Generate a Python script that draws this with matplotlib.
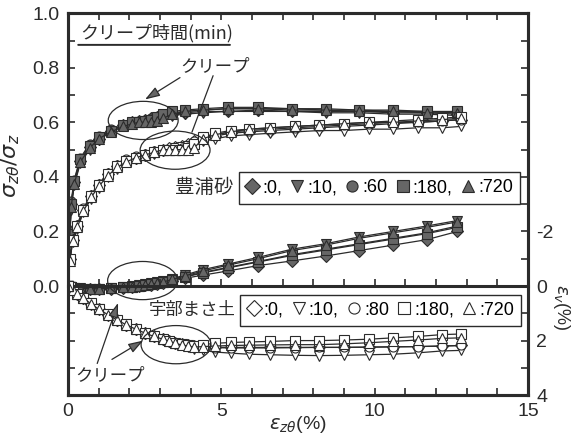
import matplotlib
matplotlib.use('Agg')
import matplotlib.pyplot as plt
from matplotlib.patches import Ellipse
from matplotlib.lines import Line2D
from matplotlib.ticker import MultipleLocator, FixedLocator, FormatStrFormatter

plt.rcParams['font.family'] = ['Liberation Sans', 'DejaVu Sans']
plt.rcParams['mathtext.fontset'] = 'dejavusans'
plt.rcParams['axes.unicode_minus'] = False

jp = ['Noto Sans CJK JP', 'DejaVu Sans']
ink = '#2b2b2b'
dark = '#666666'

# creep time legends (min)
markers = ['D', 'v', 'o', 's', '^']
toyo_labels = [':0,', ':10,', ':60', ':180,', ':720']
masa_labels = [':0,', ':10,', ':80', ':180,', ':720']

# Toyoura sand: shear strain (%), stress ratio, volumetric strain (%)
eps_toyo = [0, 0.05, 0.1, 0.2, 0.4, 0.7, 1.0, 1.4, 1.8, 2.1, 2.3, 2.5, 2.7, 2.9, 3.1,
            3.4, 3.8, 4.4, 5.2, 6.2, 7.3, 8.4, 9.5, 10.6, 11.7, 12.7]
toyo_ratio_0 = [0, 0.18, 0.30, 0.38, 0.46, 0.51, 0.54, 0.57, 0.59, 0.60, 0.605, 0.61, 0.615,
                0.62, 0.625, 0.63, 0.635, 0.64, 0.64, 0.645, 0.64, 0.64, 0.64, 0.635, 0.635, 0.63]
toyo_ratio_10 = [0, 0.16, 0.28, 0.37, 0.45, 0.50, 0.535, 0.565, 0.585, 0.595, 0.60, 0.605, 0.61,
                 0.615, 0.62, 0.625, 0.63, 0.635, 0.64, 0.64, 0.64, 0.635, 0.635, 0.63, 0.63, 0.625]
toyo_ratio_60 = [0, 0.20, 0.31, 0.39, 0.47, 0.52, 0.55, 0.575, 0.59, 0.60, 0.605, 0.61, 0.615,
                 0.62, 0.63, 0.635, 0.64, 0.645, 0.65, 0.65, 0.65, 0.645, 0.645, 0.64, 0.64, 0.635]
toyo_ratio_180 = [0, 0.19, 0.30, 0.385, 0.465, 0.515, 0.545, 0.57, 0.59, 0.60, 0.60, 0.605, 0.61,
                  0.62, 0.63, 0.64, 0.645, 0.65, 0.655, 0.655, 0.65, 0.65, 0.645, 0.645, 0.64, 0.64]
toyo_ratio_720 = [0, 0.17, 0.29, 0.375, 0.455, 0.505, 0.54, 0.565, 0.585, 0.595, 0.60, 0.60, 0.60,
                  0.605, 0.615, 0.63, 0.64, 0.645, 0.65, 0.65, 0.645, 0.645, 0.64, 0.64, 0.635, 0.635]
toyo_vol_0 = [0, 0.02, 0.05, 0.08, 0.10, 0.12, 0.12, 0.10, 0.06, 0.03, 0.0, -0.02, -0.05, -0.08,
              -0.12, -0.18, -0.28, -0.40, -0.55, -0.75, -0.92, -1.10, -1.30, -1.50, -1.70, -2.0]
toyo_vol_10 = [0, 0.02, 0.05, 0.07, 0.09, 0.10, 0.10, 0.08, 0.04, 0.0, -0.03, -0.06, -0.10, -0.14,
               -0.19, -0.27, -0.40, -0.60, -0.80, -1.05, -1.35, -1.55, -1.80, -2.00, -2.20, -2.40]
toyo_vol_60 = [0, 0.02, 0.05, 0.08, 0.10, 0.11, 0.11, 0.09, 0.05, 0.02, -0.01, -0.04, -0.08, -0.12,
               -0.16, -0.23, -0.34, -0.50, -0.68, -0.90, -1.15, -1.35, -1.55, -1.75, -1.95, -2.20]
toyo_vol_180 = [0, 0.02, 0.05, 0.08, 0.10, 0.11, 0.11, 0.09, 0.05, 0.02, 0.0, -0.03, -0.06, -0.10,
                -0.15, -0.22, -0.33, -0.48, -0.66, -0.88, -1.12, -1.32, -1.52, -1.72, -1.92, -2.15]
toyo_vol_720 = [0, 0.02, 0.05, 0.07, 0.09, 0.10, 0.10, 0.08, 0.05, 0.02, 0.0, -0.03, -0.06, -0.10,
                -0.15, -0.24, -0.37, -0.55, -0.76, -1.00, -1.30, -1.50, -1.75, -1.95, -2.15, -2.35]

# Ube masado soil
eps_masa = [0, 0.05, 0.15, 0.3, 0.5, 0.75, 1.0, 1.3, 1.6, 1.9, 2.2, 2.5, 2.8, 3.1, 3.3, 3.5,
            3.7, 3.9, 4.1, 4.4, 4.8, 5.3, 5.9, 6.6, 7.4, 8.2, 9.0, 9.8, 10.6, 11.4, 12.2, 12.8]
masa_ratio_0 = [0, 0.10, 0.17, 0.22, 0.28, 0.33, 0.37, 0.41, 0.44, 0.46, 0.47, 0.48, 0.49, 0.50,
                0.505, 0.51, 0.515, 0.52, 0.53, 0.54, 0.55, 0.56, 0.565, 0.57, 0.575, 0.58,
                0.585, 0.59, 0.595, 0.60, 0.605, 0.61]
masa_ratio_10 = [0, 0.09, 0.16, 0.21, 0.27, 0.32, 0.36, 0.40, 0.43, 0.455, 0.465, 0.475, 0.485,
                 0.495, 0.50, 0.505, 0.51, 0.515, 0.52, 0.53, 0.54, 0.55, 0.555, 0.56, 0.565,
                 0.57, 0.57, 0.575, 0.575, 0.58, 0.58, 0.585]
masa_ratio_80 = [0, 0.10, 0.17, 0.225, 0.285, 0.335, 0.375, 0.415, 0.445, 0.465, 0.475, 0.485,
                 0.495, 0.50, 0.50, 0.50, 0.505, 0.51, 0.53, 0.545, 0.555, 0.565, 0.57, 0.575,
                 0.58, 0.585, 0.59, 0.595, 0.60, 0.60, 0.605, 0.61]
masa_ratio_180 = [0, 0.10, 0.17, 0.22, 0.28, 0.33, 0.37, 0.41, 0.44, 0.46, 0.47, 0.48, 0.49, 0.50,
                  0.50, 0.50, 0.50, 0.505, 0.52, 0.545, 0.56, 0.57, 0.575, 0.58, 0.585, 0.59,
                  0.595, 0.60, 0.605, 0.61, 0.615, 0.62]
masa_ratio_720 = [0, 0.09, 0.165, 0.215, 0.275, 0.325, 0.365, 0.405, 0.435, 0.455, 0.47, 0.48,
                  0.49, 0.50, 0.50, 0.50, 0.50, 0.50, 0.505, 0.54, 0.555, 0.565, 0.575, 0.58,
                  0.585, 0.59, 0.595, 0.60, 0.60, 0.605, 0.61, 0.615]
masa_vol_0 = [0, 0.05, 0.15, 0.30, 0.45, 0.65, 0.85, 1.05, 1.25, 1.42, 1.58, 1.72, 1.85, 1.95,
              2.02, 2.08, 2.13, 2.17, 2.20, 2.22, 2.25, 2.25, 2.25, 2.25, 2.25, 2.25, 2.25,
              2.24, 2.23, 2.22, 2.20, 2.18]
masa_vol_10 = [0, 0.05, 0.15, 0.30, 0.46, 0.66, 0.86, 1.07, 1.27, 1.45, 1.60, 1.75, 1.88, 1.98,
               2.05, 2.12, 2.18, 2.24, 2.30, 2.36, 2.42, 2.46, 2.50, 2.52, 2.54, 2.55, 2.54,
               2.52, 2.50, 2.45, 2.38, 2.36]
masa_vol_80 = [0, 0.05, 0.15, 0.30, 0.45, 0.65, 0.85, 1.05, 1.25, 1.42, 1.58, 1.72, 1.85, 1.95,
               2.03, 2.10, 2.16, 2.20, 2.23, 2.25, 2.26, 2.27, 2.27, 2.27, 2.26, 2.25, 2.25,
               2.24, 2.23, 2.22, 2.20, 2.18]
masa_vol_180 = [0, 0.05, 0.15, 0.29, 0.44, 0.64, 0.84, 1.04, 1.24, 1.41, 1.57, 1.71, 1.84, 1.94,
                2.02, 2.08, 2.14, 2.18, 2.20, 2.15, 2.10, 2.07, 2.05, 2.03, 2.00, 2.00, 1.98,
                1.95, 1.90, 1.85, 1.78, 1.76]
masa_vol_720 = [0, 0.05, 0.15, 0.30, 0.45, 0.65, 0.85, 1.05, 1.25, 1.42, 1.58, 1.72, 1.85, 1.95,
                2.03, 2.10, 2.16, 2.20, 2.24, 2.22, 2.20, 2.18, 2.17, 2.16, 2.15, 2.15, 2.12,
                2.08, 2.03, 1.98, 1.92, 1.90]

toyo_ratio = [toyo_ratio_0, toyo_ratio_10, toyo_ratio_60, toyo_ratio_180, toyo_ratio_720]
toyo_vol = [toyo_vol_0, toyo_vol_10, toyo_vol_60, toyo_vol_180, toyo_vol_720]
masa_ratio = [masa_ratio_0, masa_ratio_10, masa_ratio_80, masa_ratio_180, masa_ratio_720]
masa_vol = [masa_vol_0, masa_vol_10, masa_vol_80, masa_vol_180, masa_vol_720]

fig = plt.figure(figsize=(5.77, 4.41), dpi=100)
ax = fig.add_axes([0.118, 0.104, 0.797, 0.866])
ax2 = ax.twinx()
ax.set_zorder(ax2.get_zorder() + 1)
ax.patch.set_visible(False)

mstyle = dict(color=ink, lw=0.9, ms=6.5, mew=0.8, mec=ink)

for m, r, v in zip(markers, toyo_ratio, toyo_vol):
    ax.plot(eps_toyo, r, marker=m, mfc=dark, **mstyle)
    ax2.plot(eps_toyo, v, marker=m, mfc=dark, **mstyle)
for m, r, v in zip(markers, masa_ratio, masa_vol):
    ax.plot(eps_masa, r, marker=m, mfc='white', **mstyle)
    ax2.plot(eps_masa, v, marker=m, mfc='white', **mstyle)

# axes, ticks
ax.set_xlim(0, 15)
ax.set_ylim(-0.4, 1.0)
ax2.set_ylim(4, -10)
ax.xaxis.set_major_locator(MultipleLocator(5))
ax.xaxis.set_minor_locator(MultipleLocator(1))
ax.yaxis.set_major_locator(FixedLocator([0, 0.2, 0.4, 0.6, 0.8, 1.0]))
ax.yaxis.set_minor_locator(FixedLocator([-0.3, -0.2, -0.1, 0.1, 0.3, 0.5, 0.7, 0.9]))
ax.yaxis.set_major_formatter(FormatStrFormatter('%.1f'))
ax2.yaxis.set_major_locator(FixedLocator([-2, 0, 2, 4]))
ax2.yaxis.set_minor_locator(MultipleLocator(1))
ax.tick_params(which='both', direction='in', top=True, right=False, length=5, width=1.2,
               labelsize=14, pad=6, colors=ink)
ax2.tick_params(which='both', direction='in', length=5, width=1.2, labelsize=14, pad=6,
                colors=ink)
for a in (ax, ax2):
    for s in a.spines.values():
        s.set_linewidth(2.2)
        s.set_color(ink)

# zero line of the stress / volumetric strain panels
sec = ax.secondary_xaxis(0, transform=ax.transData)
sec.xaxis.set_major_locator(MultipleLocator(1))
sec.tick_params(direction='in', length=5, width=1.2, labelbottom=False, colors=ink)
sec.spines['bottom'].set_linewidth(2.2)
sec.spines['bottom'].set_color(ink)

ax.set_xlabel(r'$\varepsilon_{z\theta}$(%)', fontsize=14, color=ink, va='center')
ax.xaxis.set_label_coords(0.5, -0.076)
ax.set_ylabel(r'$\sigma_{z\theta}/\sigma_z$', fontsize=16, color=ink)
ax.yaxis.set_label_coords(-0.1, 0.6)
ax2.set_ylabel(r'$\varepsilon_v$(%)', fontsize=13, rotation=-90, color=ink,
               ha='center', va='center')
ax2.yaxis.set_label_coords(1.072, 0.23)

# annotations
ax.text(0.39, 0.927, 'クリープ時間(min)', fontsize=13, va='center', family=jp, color=ink)
ax.annotate('', xy=(5.28, 0.884), xytext=(0.33, 0.884),
            arrowprops=dict(arrowstyle='-', lw=1.4, color=ink, shrinkA=0, shrinkB=0))
ax.text(4.79, 0.807, 'クリープ', fontsize=12.5, ha='center', va='center', family=jp, color=ink)
ax.text(1.37, -0.327, 'クリープ', fontsize=12.5, ha='center', va='center', family=jp, color=ink)

head = dict(arrowstyle='-|>,head_length=0.9,head_width=0.3', lw=0.9, color=ink,
            fc=dark, shrinkA=0, shrinkB=0)
ax.annotate('', xy=(2.51, 0.684), xytext=(3.65, 0.764), arrowprops=head)
ax.annotate('', xy=(4.04, 0.564), xytext=(4.73, 0.771),
            arrowprops=dict(arrowstyle='-', lw=0.9, color=ink, shrinkA=0, shrinkB=0))
ax.annotate('', xy=(1.63, -0.062), xytext=(0.95, -0.284), arrowprops=head)
ax.annotate('', xy=(2.45, -0.2), xytext=(1.43, -0.269), arrowprops=head)

for c in [(2.45, 0.607), (3.49, 0.498), (2.43, 0.02), (3.52, -0.215)]:
    ax.add_patch(Ellipse(c, 2.28, 0.14, fill=False, ec=ink, lw=0.9, zorder=5))

# legends
def handles(face):
    return [Line2D([], [], ls='none', marker=m, ms=8, mfc=face, mec=ink, mew=0.8)
            for m in markers]

legkw = dict(ncol=5, loc='center', bbox_transform=ax.transData, fancybox=False,
             edgecolor=ink, framealpha=1, borderpad=0.4, handlelength=0.7,
             handletextpad=0.2, columnspacing=0.5, borderaxespad=0,
             prop={'family': 'Liberation Sans', 'size': 13})
leg1 = ax.legend(handles(dark), toyo_labels, bbox_to_anchor=(10.15, 0.36), **legkw)
leg1.get_frame().set_linewidth(1.0)
ax.add_artist(leg1)
leg2 = ax.legend(handles('white'), masa_labels, bbox_to_anchor=(10.2, -0.089), **legkw)
leg2.get_frame().set_linewidth(1.0)

ax.text(5.38, 0.36, '豊浦砂', fontsize=14, ha='right', va='center', family=jp, color=ink)
ax.text(5.45, -0.089, '宇部まさ土', fontsize=12.5, ha='right', va='center', family=jp, color=ink)

fig.savefig('out.png', dpi=100)
